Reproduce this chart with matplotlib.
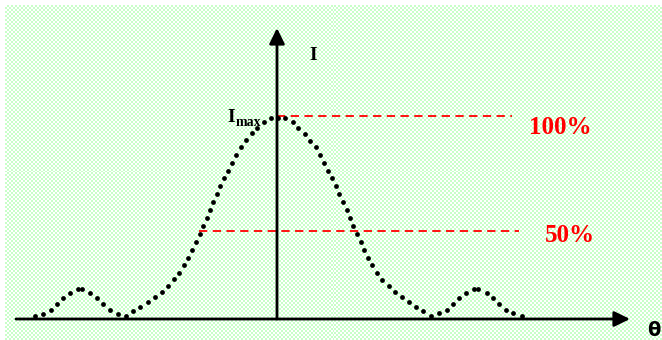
#!/usr/bin/env python3
"""Single-slit diffraction sketch: intensity vs angle with 100% / 50% levels"""
import numpy as np
import matplotlib
matplotlib.use('Agg')
import matplotlib.pyplot as plt
from matplotlib.colors import ListedColormap

# dots of the intensity curve (theta: arb. units, I: arb. units)
theta = [-243, -235, -227, -221, -215, -208, -200, -196, -188, -181, -175, -168, -160, -152,
         -145, -138, -130, -123, -116, -110, -104, -99, -94, -90, -86, -82, -78, -75, -71,
         -68, -65, -61, -58, -54, -50, -46, -42, -37, -32, -26, -21, -14, -7, 0, 7, 15, 20,
         27, 32, 38, 42, 46, 50, 54, 58, 61, 65, 69, 72, 75, 79, 83, 86, 90, 94, 99, 104,
         111, 117, 124, 131, 138, 145, 153, 161, 169, 175, 181, 188, 196, 200, 209, 215,
         221, 228, 235, 244]
intensity = [1, 3, 7, 13, 19, 24, 28, 28, 24, 19, 13, 7, 3, 1,
             6, 10, 15, 20, 25, 31, 38, 44, 52, 59, 67, 75, 83, 91, 99,
             107, 115, 123, 131, 139, 146, 154, 162, 170, 177, 184, 189, 195, 199, 199, 199, 195, 189,
             183, 176, 170, 162, 154, 146, 139, 131, 123, 115, 107, 99, 91, 83, 75, 67, 59, 52, 44, 37,
             31, 25, 20, 15, 10, 6, 1, 4, 7, 13, 19, 24, 28, 28, 24, 19,
             13, 7, 4, 1]

# reference levels: (value, start, end, label)
levels = [201, 86]
level_start = [-1, -79]
level_end = [234, 241]
level_labels = ['100%', '50%']

XMIN, XMAX, YMIN, YMAX = -278, 384, -23, 317

fig = plt.figure(figsize=(6.62, 3.40), dpi=100)
ax = fig.add_axes([0, 0, 1, 1])
ax.set_xlim(XMIN, XMAX); ax.set_ylim(YMIN, YMAX)
ax.axis('off')

# checkered light-green background
ny, nx = 168, 329
chk = np.indices((ny, nx)).sum(axis=0) % 2
ax.imshow(chk, cmap=ListedColormap(['white', '#c8ffc8']), interpolation='nearest',
          extent=(-273, XMAX, YMIN, 312), aspect='auto', zorder=0)

# reference levels
for lv, x0, x1, lab, ly, lx in zip(levels, level_start, level_end, level_labels, [190, 82], [282, 292]):
    ax.plot([x0, x1], [lv, lv], color='#ff0000', lw=1.3, linestyle=(0, (4.6, 3.0)), zorder=2)
    ax.text(lx, ly, lab, color='#ff0000', fontsize=18, fontweight='bold',
            family='Liberation Serif', ha='center', va='center')

# axes with arrows
arrow = dict(arrowstyle='-|>,head_length=0.47,head_width=0.23', lw=2.0, color='black',
             mutation_scale=20, shrinkA=0, shrinkB=0)
ax.annotate('', xy=(352, -2), xytext=(-262, -2), arrowprops=arrow, zorder=3)
ax.annotate('', xy=(-1, 289), xytext=(-1, -2), arrowprops=arrow, zorder=3)

# curve
ax.scatter(theta, intensity, s=12, color='black', zorder=4, linewidths=0)

# labels
ax.text(35, 262, 'I', fontsize=14, fontweight='bold', family='Liberation Serif', ha='center', va='center')
ax.text(-43, 195, 'I', fontsize=14, fontweight='bold', family='Liberation Serif', ha='right', va='baseline')
ax.text(-42.5, 191, 'max', fontsize=10, fontweight='bold', family='Liberation Serif', ha='left', va='baseline')
ax.text(376, -14, 'θ', fontsize=14, fontweight='bold', family='DejaVu Sans', ha='center', va='center')

plt.savefig('out.png', dpi=100)
